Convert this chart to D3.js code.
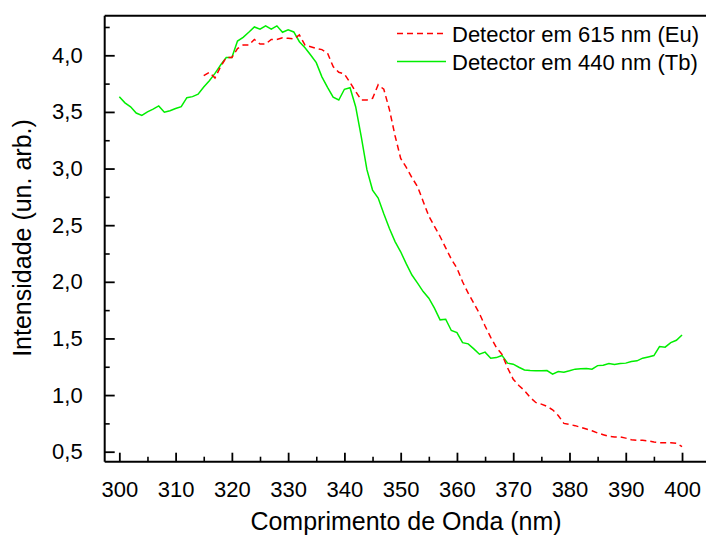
<!DOCTYPE html>
<html>
<head>
<meta charset="utf-8">
<script src="https://cdn.jsdelivr.net/npm/d3@7"></script>
<style>
  html, body { margin: 0; padding: 0; background: #fff; }
  svg { display: block; font-family: "Liberation Sans", Arial, sans-serif; }
</style>
</head>
<body>
<svg id="chart" width="706" height="536"></svg>
<script>
// ---- data ----
const euWavelength = [315,316,317,318,319,320,321,322,323,324,325,326,327,328,329,330,331,332,333,334,335,336,337,338,339,340,341,342,343,344,345,346,347,348,349,350,351,352,353,354,355,356,357,358,359,360,361,362,363,364,365,366,367,368,369,370,371,372,373,374,375,376,377,378,379,380,381,382,383,384,385,386,387,388,389,390,391,392,393,394,395,396,397,398,399,400];
const euIntensity = [3.82,3.85,3.80,3.90,3.98,3.98,4.06,4.09,4.09,4.14,4.10,4.10,4.14,4.14,4.155,4.15,4.145,4.18,4.09,4.075,4.06,4.05,4.02,3.90,3.85,3.835,3.76,3.68,3.605,3.605,3.62,3.74,3.70,3.52,3.29,3.09,3.01,2.92,2.84,2.71,2.58,2.49,2.40,2.30,2.20,2.12,2.00,1.90,1.81,1.72,1.61,1.51,1.42,1.36,1.24,1.14,1.085,1.04,0.98,0.935,0.92,0.90,0.87,0.82,0.75,0.74,0.73,0.715,0.70,0.685,0.665,0.65,0.635,0.63,0.63,0.62,0.605,0.60,0.60,0.595,0.585,0.58,0.58,0.58,0.575,0.545];

const tbWavelength = [300,301,302,303,304,305,306,307,308,309,310,311,312,313,314,315,316,317,318,319,320,321,322,323,324,325,326,327,328,329,330,331,332,333,334,335,336,337,338,339,340,341,342,343,344,345,346,347,348,349,350,351,352,353,354,355,356,357,358,359,360,361,362,363,364,365,366,367,368,369,370,371,372,373,374,375,376,377,378,379,380,381,382,383,384,385,386,387,388,389,390,391,392,393,394,395,396,397,398,399,400];
const tbIntensity = [3.635,3.58,3.545,3.49,3.47,3.50,3.525,3.553,3.497,3.51,3.53,3.546,3.626,3.635,3.656,3.72,3.776,3.84,3.914,3.98,3.98,4.126,4.159,4.203,4.25,4.23,4.26,4.23,4.26,4.203,4.226,4.206,4.12,4.067,4.003,3.935,3.81,3.717,3.63,3.605,3.70,3.714,3.546,3.28,2.99,2.81,2.74,2.60,2.47,2.355,2.265,2.158,2.06,1.988,1.914,1.855,1.767,1.664,1.67,1.57,1.552,1.463,1.452,1.408,1.361,1.379,1.326,1.331,1.35,1.282,1.273,1.246,1.222,1.216,1.214,1.214,1.216,1.184,1.207,1.202,1.214,1.229,1.232,1.234,1.229,1.26,1.264,1.278,1.27,1.278,1.282,1.296,1.302,1.326,1.337,1.349,1.428,1.423,1.463,1.484,1.531];

const seriesNames = ["Detector em 615 nm (Eu)", "Detector em 440 nm (Tb)"];
const xTickValues = [300,310,320,330,340,350,360,370,380,390,400];
const xMinorTicks = [305,315,325,335,345,355,365,375,385,395];
const yTickValues = [0.5,1.0,1.5,2.0,2.5,3.0,3.5,4.0];
const yTickLabels = ["0,5","1,0","1,5","2,0","2,5","3,0","3,5","4,0"];
const yMinorTicks = [0.75,1.25,1.75,2.25,2.75,3.25,3.75,4.25];
const xTitle = "Comprimento de Onda (nm)";
const yTitle = "Intensidade (un. arb.)";

// ---- layout ----
const svg = d3.select("#chart");
const mLeft = 104.7, mRight = 706, mTop = 15.7, mBottom = 461.7;
const x = d3.scaleLinear().domain([297.4, 404.26]).range([mLeft, mRight]);
const y = d3.scaleLinear().domain([0.4117, 4.3496]).range([mBottom, mTop]);

const axisColor = "#000";

// minor ticks
const xMinor = svg.append("g").attr("transform", `translate(0,${mBottom})`)
  .call(d3.axisBottom(x).tickValues(xMinorTicks).tickSize(-5).tickFormat(""));
const yMinor = svg.append("g").attr("transform", `translate(${mLeft},0)`)
  .call(d3.axisLeft(y).tickValues(yMinorTicks).tickSize(-5).tickFormat(""));
[xMinor, yMinor].forEach(g => { g.select(".domain").remove(); g.selectAll("line").attr("stroke", axisColor).attr("stroke-width", 1.6); });

// major x
const xAxis = svg.append("g").attr("transform", `translate(0,${mBottom})`)
  .call(d3.axisBottom(x).tickValues(xTickValues).tickSize(-9).tickPadding(20).tickFormat(d3.format("d")));
xAxis.select(".domain").remove();
xAxis.selectAll("line").attr("stroke", axisColor).attr("stroke-width", 1.8);
xAxis.selectAll("text").attr("font-size", 22).attr("fill", "#000").attr("font-family", "Liberation Sans, Arial, sans-serif");

// major y
const yAxis = svg.append("g").attr("transform", `translate(${mLeft},0)`)
  .call(d3.axisLeft(y).tickValues(yTickValues).tickSize(-10).tickPadding(22)
    .tickFormat((d, i) => yTickLabels[i]));
yAxis.select(".domain").remove();
yAxis.selectAll("line").attr("stroke", axisColor).attr("stroke-width", 1.8);
yAxis.selectAll("text").attr("font-size", 22).attr("fill", "#000").attr("font-family", "Liberation Sans, Arial, sans-serif");

// frame lines (left, top, bottom)
svg.append("line").attr("x1", mLeft).attr("x2", mLeft).attr("y1", mTop).attr("y2", mBottom)
  .attr("stroke", axisColor).attr("stroke-width", 2);
svg.append("line").attr("x1", mLeft).attr("x2", mRight).attr("y1", mTop).attr("y2", mTop)
  .attr("stroke", axisColor).attr("stroke-width", 2);
svg.append("line").attr("x1", mLeft).attr("x2", mRight).attr("y1", mBottom).attr("y2", mBottom)
  .attr("stroke", axisColor).attr("stroke-width", 2);

// lines
const line = d3.line().x(d => x(d[0])).y(d => y(d[1]));
const euData = euWavelength.map((w, i) => [w, euIntensity[i]]);
const tbData = tbWavelength.map((w, i) => [w, tbIntensity[i]]);

svg.append("path").datum(tbData).attr("d", line)
  .attr("fill", "none").attr("stroke", "#00ee00").attr("stroke-width", 1.5);
svg.append("path").datum(euData).attr("d", line)
  .attr("fill", "none").attr("stroke", "#ff0000").attr("stroke-width", 1.5)
  .attr("stroke-dasharray", "6,4");

// legend
const legend = svg.append("g");
const legendItems = [
  { name: seriesNames[0], color: "#ff0000", dash: "6,4", y: 33.5 },
  { name: seriesNames[1], color: "#00ee00", dash: null, y: 61.5 }
];
legendItems.forEach(it => {
  legend.append("line").attr("x1", 397).attr("x2", 446).attr("y1", it.y).attr("y2", it.y)
    .attr("stroke", it.color).attr("stroke-width", 1.5)
    .attr("stroke-dasharray", it.dash);
  legend.append("text").attr("x", 452).attr("y", it.y + 8).attr("font-size", 22)
    .attr("fill", "#000").text(it.name);
});

// axis titles
svg.append("text").attr("x", 406).attr("y", 530).attr("text-anchor", "middle")
  .attr("font-size", 25).attr("fill", "#000").text(xTitle);
svg.append("text").attr("transform", "translate(31,238) rotate(-90)").attr("text-anchor", "middle")
  .attr("font-size", 25).attr("fill", "#000").text(yTitle);
</script>
</body>
</html>
